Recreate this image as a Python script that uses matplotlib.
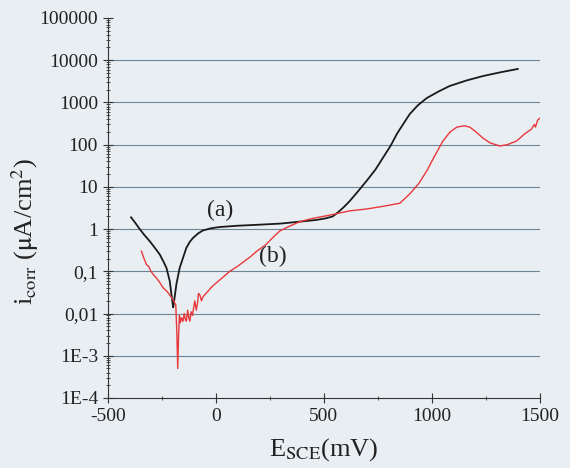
import matplotlib.pyplot as plt
from matplotlib.ticker import FixedLocator, FixedFormatter, LogLocator, NullFormatter

# curve (a), black
e_a = [-392, -370, -352, -330, -306, -282, -259, -242, -228, -213, -205, -200,
       -197, -190, -182, -167, -150, -136, -120, -105, -80, -59, -20, 19, 100,
       200, 300, 389, 467, 510, 542, 570, 595, 620, 660, 699, 740, 773, 810,
       838, 870, 898, 935, 977, 1030, 1083, 1160, 1236, 1320, 1398]
i_a = [1.9, 1.35, 1.0, 0.72, 0.52, 0.36, 0.25, 0.17, 0.12, 0.059, 0.028,
       0.018, 0.014, 0.025, 0.05, 0.12, 0.22, 0.36, 0.5, 0.62, 0.8, 0.93,
       1.05, 1.12, 1.2, 1.27, 1.35, 1.5, 1.65, 1.8, 2.0, 2.6, 3.4, 4.6, 8, 14,
       26, 48, 95, 178, 320, 530, 850, 1270, 1800, 2450, 3300, 4200, 5200,
       6200]

# curve (b), red
e_b = [-344, -335, -321, -310, -300, -290, -275, -260, -244, -230, -218,
       -205, -195, -185, -180, -176, -172, -168, -164, -159, -152, -146,
       -140, -136, -130, -125, -120, -114, -108, -102, -97, -90, -84, -80,
       -74, -66, -59, -40, -20, 0, 30, 65, 100, 130, 160, 190, 230, 260, 296,
       330, 389, 450, 520, 620, 700, 780, 852, 898, 940, 977, 1010, 1051,
       1085, 1116, 1150, 1176, 1205, 1236, 1270, 1315, 1350, 1393, 1430,
       1460, 1475, 1480, 1490, 1500]
i_b = [0.3, 0.22, 0.145, 0.13, 0.1, 0.085, 0.07, 0.055, 0.041, 0.035, 0.03,
       0.024, 0.02, 0.016, 0.0035, 0.0005, 0.003, 0.009, 0.006, 0.008,
       0.0065, 0.01, 0.007, 0.0066, 0.012, 0.008, 0.0066, 0.011, 0.009,
       0.014, 0.02, 0.012, 0.018, 0.03, 0.028, 0.02, 0.025, 0.032, 0.042,
       0.052, 0.07, 0.1, 0.13, 0.17, 0.22, 0.3, 0.42, 0.6, 0.9, 1.1, 1.5,
       1.8, 2.1, 2.7, 3.0, 3.5, 4.1, 6.8, 12, 24, 50, 121, 200, 260, 280,
       260, 200, 144, 110, 93, 100, 122, 180, 230, 300, 260, 380, 420]

y_ticks = [1e-4, 1e-3, 1e-2, 1e-1, 1, 10, 100, 1000, 10000, 100000]
y_labels = ["1E-4", "1E-3", "0,01", "0,1", "1", "10", "100", "1000", "10000", "100000"]
x_ticks = [-500, 0, 500, 1000, 1500]

plt.rcParams['font.family'] = ['Liberation Serif', 'DejaVu Serif']
plt.rcParams['mathtext.fontset'] = 'stix'
plt.rcParams['axes.unicode_minus'] = False

fig = plt.figure(figsize=(5.7, 4.68), dpi=100)
fig.patch.set_facecolor('#e9eef3')
ax = fig.add_axes([0.189, 0.1496, 0.758, 0.812])
ax.set_facecolor('#e9eef3')

ax.plot(e_a, i_a, color='#1a1a1a', lw=1.3)
ax.plot(e_b, i_b, color='#e8383b', lw=1.0)

ax.set_yscale('log')
ax.set_xlim(-500, 1500)
ax.set_ylim(1e-4, 1e5)
ax.yaxis.set_major_locator(FixedLocator(y_ticks))
ax.yaxis.set_major_formatter(FixedFormatter(y_labels))
ax.yaxis.set_minor_locator(LogLocator(base=10, subs=range(2, 10), numticks=50))
ax.yaxis.set_minor_formatter(NullFormatter())
ax.set_xticks(x_ticks)
ax.set_xticks([-250, 250, 750, 1250], minor=True)

for y in y_ticks[1:-1]:
    ax.axhline(y, color='#6a8594', lw=0.8, zorder=0)

for s in ['top', 'right']:
    ax.spines[s].set_visible(False)
for s in ['left', 'bottom']:
    ax.spines[s].set_color('#333333')
ax.tick_params(axis='both', which='major', direction='inout', length=7,
               labelsize=14, colors='#333333', labelcolor='#222222')
ax.tick_params(axis='both', which='minor', direction='inout', length=3, colors='#333333')

ax.text(18, 2.7, "(a)", fontsize=17, color='#222222', ha='center', va='center')
ax.text(264, 0.23, "(b)", fontsize=17, color='#222222', ha='center', va='center')

ax.set_ylabel(r"i$_{\mathrm{corr}}$ ($\mathrm{\mu}$A/cm$^2$)", fontsize=19, color='#222222')
ax.yaxis.set_label_coords(-0.155, 0.437)
ax.set_xlabel(r"E$_{\mathrm{SCE}}$(mV)", fontsize=19, color='#222222', labelpad=8)

fig.savefig("out.png", dpi=100, facecolor=fig.get_facecolor())
